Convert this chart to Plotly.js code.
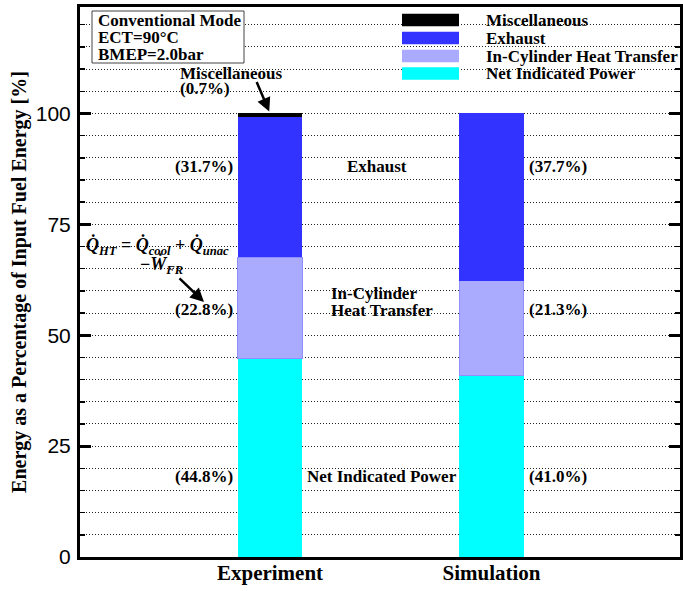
<!DOCTYPE html>
<html>
<head>
<meta charset="utf-8">
<script src="https://cdn.plot.ly/plotly-3.0.1.min.js"></script>
<style>
  html, body { margin: 0; padding: 0; background: #fff; }
  #chart { width: 683px; height: 591px; }
</style>
</head>
<body>
<div id="chart"></div>
<script>
// Energy balance: share of input fuel energy, experiment vs. simulation
const cases = ['Experiment', 'Simulation'];
const seriesNames = ['Net Indicated Power', 'In-Cylinder Heat Transfer', 'Exhaust', 'Miscellaneous'];
const netPower = [44.8, 41.0];
const heatTransfer = [22.8, 21.3];
const exhaust = [31.7, 37.7];
const misc = [0.7, 0.0];
const yTicks = [0, 25, 50, 75, 100];
const conditionLines = ['Conventional Mode', 'ECT=90°C', 'BMEP=2.0bar'];

const seriesColors = ['#00ffff', '#aaaaff', '#3333ff', '#000000'];
const series = [netPower, heatTransfer, exhaust, misc];

// page geometry
const W = 683, H = 591;
const M = { l: 80, r: 3, t: 7, b: 34 };
const plotW = W - M.l - M.r, plotH = H - M.t - M.b;
const px = x => (x - M.l) / plotW;          // page x -> paper x
const py = y => (H - M.b - y) / plotH;      // page y -> paper y

const serif = 'Liberation Serif, Times New Roman, serif';
const txtFont = { family: serif, size: 17, color: '#000' };
const BAR_W = 0.29;
const fmt = v => '(' + v.toFixed(1) + '%)';
const bold = s => '<b>' + s + '</b>';

const traces = series.map((vals, i) => ({
  type: 'bar',
  x: cases,
  y: vals,
  name: seriesNames[i],
  width: BAR_W,
  marker: { color: seriesColors[i], line: { width: i === 1 ? 1 : 0, color: '#8f8fff' } },
  showlegend: false,
  hoverinfo: 'skip'
}));

const annotations = [];
const shapes = [];

// percentage labels beside each stacked segment
const rows = [
  { vals: exhaust, y: 88.0, mid: 'Exhaust', midX: 0.485 },
  { vals: heatTransfer, y: 55.7 },
  { vals: netPower, y: 18.2, mid: 'Net Indicated Power', midX: 0.505 }
];
rows.forEach(r => {
  annotations.push({ xref: 'x', yref: 'y', x: -BAR_W / 2, y: r.y, xanchor: 'right', yanchor: 'middle',
    xshift: -3, text: bold(fmt(r.vals[0])), showarrow: false, font: txtFont });
  annotations.push({ xref: 'x', yref: 'y', x: 1 + BAR_W / 2, y: r.y, xanchor: 'left', yanchor: 'middle',
    xshift: 3, text: bold(fmt(r.vals[1])), showarrow: false, font: txtFont });
  if (r.mid) {
    annotations.push({ xref: 'x', yref: 'y', x: r.midX, y: r.y, xanchor: 'center', yanchor: 'middle',
      text: bold(r.mid), showarrow: false, font: txtFont });
  }
});
// two-line heat transfer caption between the bars
annotations.push({ xref: 'paper', yref: 'paper', x: px(329), y: py(293), xanchor: 'left', yanchor: 'middle',
  text: bold('In-Cylinder'), showarrow: false, font: txtFont });
annotations.push({ xref: 'paper', yref: 'paper', x: px(329), y: py(310), xanchor: 'left', yanchor: 'middle',
  text: bold('Heat Transfer'), showarrow: false, font: txtFont });

// miscellaneous callout
annotations.push({ xref: 'paper', yref: 'paper', x: px(178), y: py(73), xanchor: 'left', yanchor: 'middle',
  text: bold('Miscellaneous'), showarrow: false, font: txtFont });
annotations.push({ xref: 'paper', yref: 'paper', x: px(178), y: py(89), xanchor: 'left', yanchor: 'middle',
  text: bold(fmt(misc[0])), showarrow: false, font: txtFont });
const expTotal = series.reduce((s, v) => s + v[0], 0);
annotations.push({ xref: 'x', yref: 'y', x: 0, y: expTotal, ax: -14, ay: -33, text: '',
  showarrow: true, arrowhead: 2, arrowsize: 1.1, arrowwidth: 2.5, arrowcolor: '#000', standoff: 2 });

// heat transfer definition
const eqFont = { family: serif, size: 18, color: '#000' };
annotations.push({ xref: 'paper', yref: 'paper', x: px(84), y: py(246), xanchor: 'left', yanchor: 'middle',
  text: '<b><i>Q\u0307<sub>HT</sub></i> = <i>Q\u0307<sub>cool</sub></i> + <i>Q\u0307<sub>unac</sub></i></b>',
  showarrow: false, font: eqFont });
annotations.push({ xref: 'paper', yref: 'paper', x: px(161), y: py(265), xanchor: 'center', yanchor: 'middle',
  text: '<b>\u2212<i>W\u0307<sub>FR</sub></i></b>', showarrow: false, font: eqFont });
annotations.push({ xref: 'paper', yref: 'paper', x: px(204), y: py(302), ax: -26, ay: -25, text: '',
  showarrow: true, arrowhead: 2, arrowsize: 1.1, arrowwidth: 2.5, arrowcolor: '#000', standoff: 0 });

// operating condition box
shapes.push({ type: 'rect', xref: 'paper', yref: 'paper', x0: px(92), x1: px(244), y0: py(63), y1: py(11),
  line: { color: '#444', width: 1 }, fillcolor: '#fff' });
conditionLines.forEach((t, i) => {
  annotations.push({ xref: 'paper', yref: 'paper', x: px(96), y: py(20 + i * 17), xanchor: 'left', yanchor: 'middle',
    text: bold(t), showarrow: false, font: txtFont });
});

// legend (top entry = top of the stack)
const legRowY = [20, 38, 56, 73.5];
[3, 2, 1, 0].forEach((si, row) => {
  const yc = legRowY[row];
  shapes.push({ type: 'rect', xref: 'paper', yref: 'paper', x0: px(402), x1: px(459),
    y0: py(yc + 6.3), y1: py(yc - 6.3), line: { width: 0 }, fillcolor: seriesColors[si] });
  annotations.push({ xref: 'paper', yref: 'paper', x: px(484), y: py(yc), xanchor: 'left', yanchor: 'middle',
    text: bold(seriesNames[si]), showarrow: false, font: txtFont });
});

const gridStyle = { gridcolor: '#222', gridwidth: 1, griddash: '1px,2px' };

const layout = {
  width: W, height: H,
  margin: M,
  paper_bgcolor: '#fff', plot_bgcolor: '#fff',
  barmode: 'stack',
  showlegend: false,
  xaxis: {
    type: 'category',
    range: [-0.858, 1.851],
    showline: true, linewidth: 3, linecolor: '#000', mirror: true,
    ticks: '', showgrid: false, zeroline: false,
    ticklabelstandoff: -5,
    tickfont: { family: serif, size: 21, color: '#000', weight: 'bold' },
    fixedrange: true
  },
  yaxis: Object.assign({
    range: [0, 124],
    tickmode: 'array', tickvals: yTicks, ticktext: yTicks.map(String),
    ticks: 'inside', ticklen: 11, tickwidth: 3, tickcolor: '#000',
    showline: true, linewidth: 3, linecolor: '#000', mirror: 'ticks',
    showgrid: true, zeroline: false,
    ticklabelstandoff: 2,
    minor: Object.assign({ dtick: 5, tick0: 0, ticks: 'inside', ticklen: 5, tickwidth: 1.5,
      tickcolor: '#000', showgrid: true }, gridStyle),
    tickfont: { family: 'Liberation Sans, Arial, sans-serif', size: 21, color: '#000' },
    title: { text: 'Energy as a Percentage of Input Fuel Energy [%]', standoff: 4,
      font: { family: serif, size: 20, color: '#000', weight: 'bold' } },
    fixedrange: true
  }, gridStyle),
  shapes: shapes,
  annotations: annotations
};

Plotly.newPlot('chart', traces, layout, { staticPlot: true, displayModeBar: false });
</script>
</body>
</html>
